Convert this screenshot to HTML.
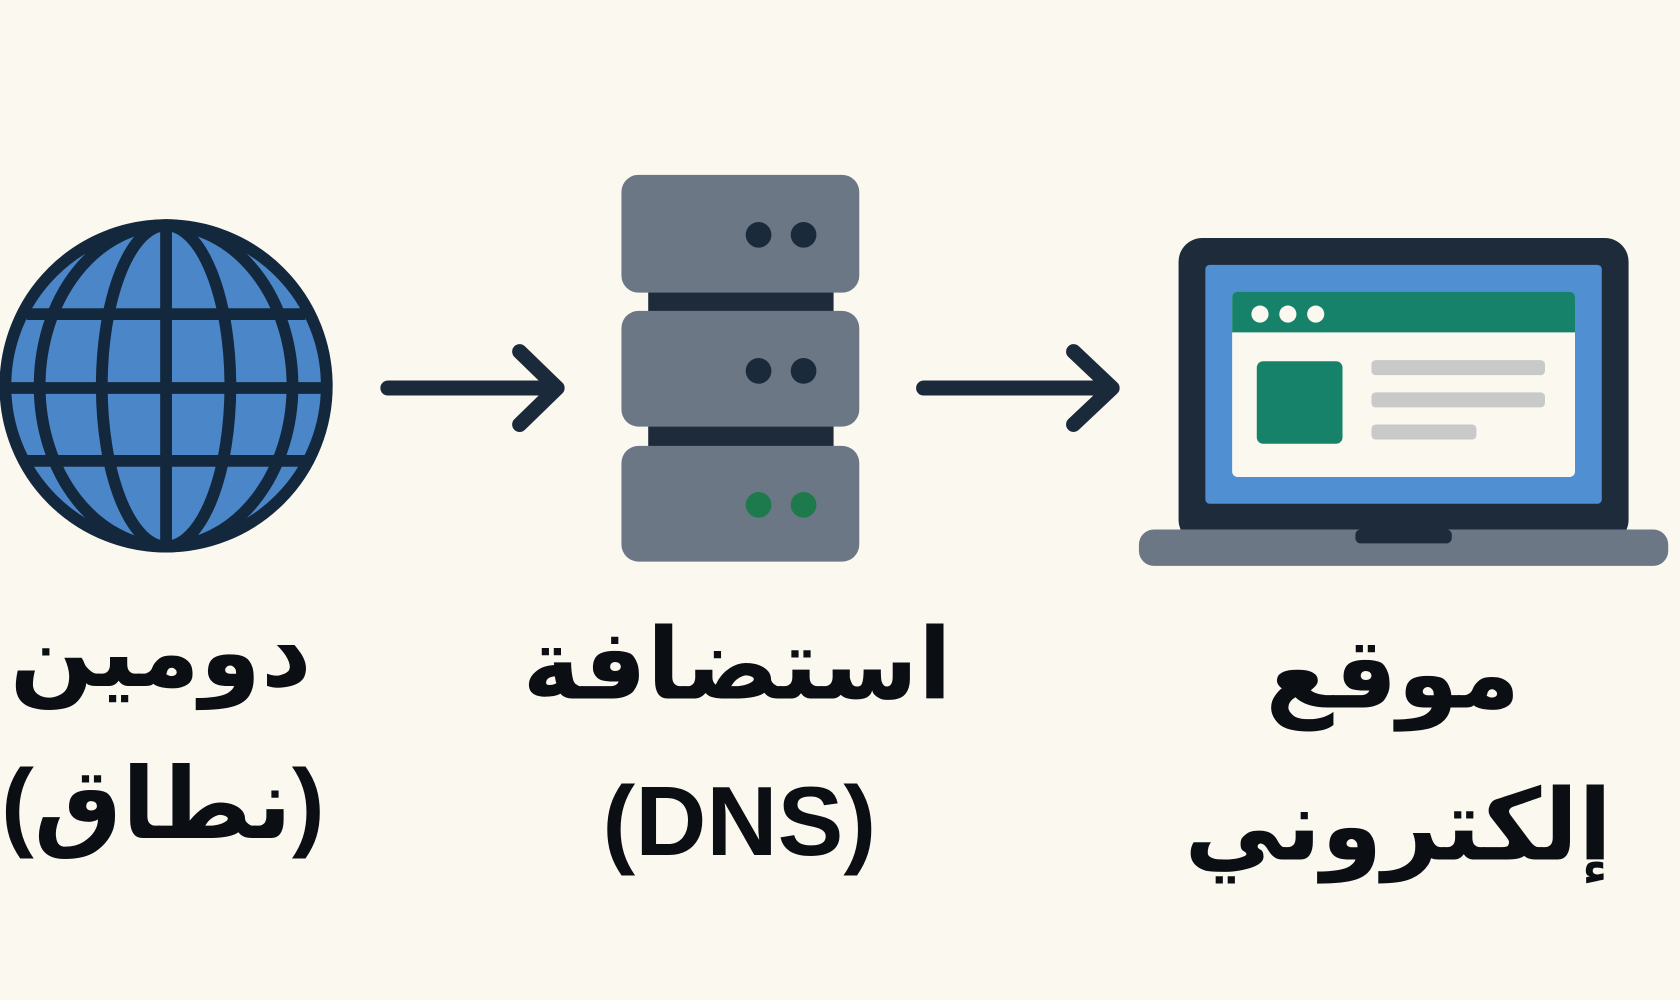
<!DOCTYPE html>
<html><head><meta charset="utf-8"><style>
html,body{margin:0;padding:0;background:#fbf8f0;}
svg{display:block}
text{font-family:"Liberation Sans","DejaVu Sans","Noto Sans CJK SC",sans-serif;font-weight:bold;fill:#0b0f14}
</style></head><body>
<svg width="1680" height="1000" viewBox="0 0 1568 933" xmlns="http://www.w3.org/2000/svg">
<rect width="1568" height="933" fill="#fbf8f0"/>
<g stroke="#14283d" stroke-width="11" fill="none">
<circle cx="155" cy="360" r="150" fill="#4a86c8"/>
<ellipse cx="155" cy="360" rx="60" ry="150"/>
<ellipse cx="155" cy="360" rx="118" ry="150"/>
<line x1="155" y1="210" x2="155" y2="510"/>
<line x1="25" y1="293" x2="285" y2="293"/>
<line x1="5" y1="362" x2="305" y2="362"/>
<line x1="22" y1="430" x2="288" y2="430"/>
</g>
<g stroke="#1b2a3a" stroke-width="14" stroke-linecap="round" stroke-linejoin="round" fill="none">
<line x1="362" y1="362" x2="518" y2="362"/>
<polyline points="485,328 520,362 485,396"/>
<line x1="862" y1="362" x2="1036" y2="362"/>
<polyline points="1002,328 1038,362 1002,396"/>
</g>
<rect x="605" y="265" width="173" height="35" fill="#1e2b3a"/>
<rect x="605" y="392" width="173" height="32" fill="#1e2b3a"/>
<rect x="580" y="163" width="222" height="110" rx="16" fill="#6b7785"/>
<rect x="580" y="290" width="222" height="108" rx="16" fill="#6b7785"/>
<rect x="580" y="416" width="222" height="108" rx="16" fill="#6b7785"/>
<g fill="#1b2a3a"><circle cx="708" cy="219" r="12"/><circle cx="750" cy="219" r="12"/><circle cx="708" cy="346" r="12"/><circle cx="750" cy="346" r="12"/></g>
<g fill="#1d7a4c"><circle cx="708" cy="471" r="12"/><circle cx="750" cy="471" r="12"/></g>
<rect x="1100" y="222" width="420" height="285" rx="22" fill="#1e2b3a"/>
<rect x="1125" y="247" width="370" height="223" rx="4" fill="#4f8fd2"/>
<rect x="1150" y="272" width="320" height="173" rx="5" fill="#fbf8f0"/>
<path d="M1150 277 a5 5 0 0 1 5 -5 h310 a5 5 0 0 1 5 5 v33 h-320z" fill="#16826a"/>
<g fill="#fbf8f0"><circle cx="1176" cy="293" r="8"/><circle cx="1202" cy="293" r="8"/><circle cx="1228" cy="293" r="8"/></g>
<rect x="1173" y="337" width="80" height="77" rx="6" fill="#16826a"/>
<g fill="#c8c9c9">
<rect x="1280" y="336" width="162" height="14" rx="4"/>
<rect x="1280" y="366" width="162" height="14" rx="4"/>
<rect x="1280" y="396" width="98" height="14" rx="4"/>
</g>
<rect x="1063" y="494" width="494" height="34" rx="14" fill="#6b7785"/>
<rect x="1265" y="494" width="90" height="13" rx="5" fill="#1e2b3a"/>
<g text-anchor="middle" font-size="92">
<text x="150" y="640">دومين</text>
<text x="152" y="782">(نطاق)</text>
<text x="688" y="652">استضافة</text>
<text x="690" y="798">(DNS)</text>
<text x="1300" y="660">موقع</text>
<text x="1305" y="802">إلكتروني</text>
</g>
</svg>
</body></html>
